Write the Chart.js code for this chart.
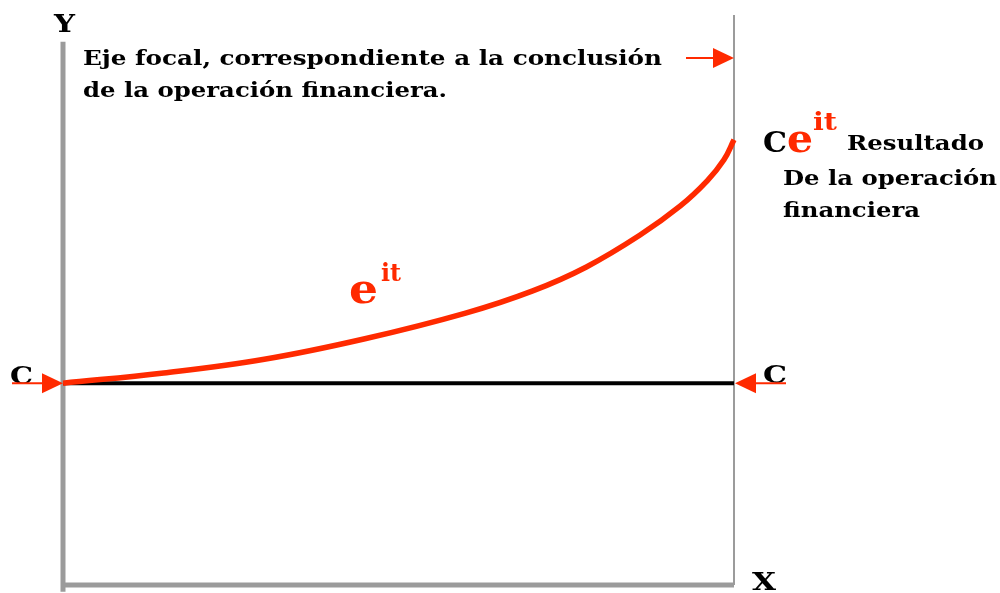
<!DOCTYPE html>
<html>
<head>
<meta charset="utf-8">
<script src="https://cdn.jsdelivr.net/npm/chart.js@4.4.0/dist/chart.umd.min.js"></script>
<style>
  html, body { margin: 0; padding: 0; background: #fff; }
  #wrap { width: 1000px; height: 593px; }
</style>
</head>
<body>
<div id="wrap"><canvas id="myChart" width="1000" height="593"></canvas></div>
<script>
// curve e^it
var curveX = [0, 1.5, 3, 4.5, 6, 7, 7.8, 8.6, 9.2, 9.6, 9.85, 10];
var curveY = [3.54, 3.72, 3.96, 4.32, 4.77, 5.16, 5.58, 6.14, 6.65, 7.09, 7.46, 7.81];

var cLevel = 3.54;     // capital C
var xStart = 0, xEnd = 10;
var yAxisFrom = -0.12, yAxisTo = 9.53;
var focalTop = 10;

var red = '#ff2a00';
var gray = '#9b9b9b';
var font = '"DejaVu Serif", serif';

function pts(xs, ys) {
  var out = [];
  for (var i = 0; i < xs.length; i++) out.push({x: xs[i], y: ys[i]});
  return out;
}

function arrow(ctx, x1, y, x2) {
  // shaft + triangular head pointing to x2
  var dir = x2 > x1 ? 1 : -1;
  ctx.save();
  ctx.strokeStyle = red;
  ctx.fillStyle = red;
  ctx.lineWidth = 2;
  ctx.beginPath();
  ctx.moveTo(x1, y);
  ctx.lineTo(x2 - dir * 18, y);
  ctx.stroke();
  ctx.beginPath();
  ctx.moveTo(x2, y);
  ctx.lineTo(x2 - dir * 21, y - 10);
  ctx.lineTo(x2 - dir * 21, y + 10);
  ctx.closePath();
  ctx.fill();
  ctx.restore();
}

// bold serif text, optionally stretched to a given width (Bookman-like look)
function txt(ctx, s, x, y, size, color, width) {
  ctx.font = 'bold ' + size + 'px ' + font;
  ctx.fillStyle = color || '#000';
  var w = ctx.measureText(s).width;
  if (width) {
    ctx.save();
    ctx.translate(x, y);
    ctx.scale(width / w, 1);
    ctx.fillText(s, 0, 0);
    ctx.restore();
    return width;
  }
  ctx.fillText(s, x, y);
  return w;
}

var labels = {
  id: 'labels',
  afterDatasetsDraw: function(chart) {
    var ctx = chart.ctx;
    var xs = chart.scales.x, ys = chart.scales.y;
    var left = xs.getPixelForValue(xStart), right = xs.getPixelForValue(xEnd);
    var cy = ys.getPixelForValue(cLevel);
    var topY = ys.getPixelForValue(curveY[curveY.length - 1]);
    ctx.save();
    ctx.textBaseline = 'alphabetic';

    txt(ctx, 'Y', 54, 32, 25, '#000', 21);
    txt(ctx, 'X', 752, 590, 25, '#000', 24);

    txt(ctx, 'Eje focal, correspondiente a la conclusión', 83, 65, 21, '#000', 579);
    txt(ctx, 'de la operación financiera.', 83, 97, 21, '#000', 364);
    arrow(ctx, 686, 58, right);

    // left C
    txt(ctx, 'C', 10, cy + 1, 25, '#000', 23);
    arrow(ctx, 12, cy, left);
    // right C
    txt(ctx, 'C', 763, cy, 25, '#000', 24);
    arrow(ctx, 786, cy, right + 1);

    // middle label e^it
    txt(ctx, 'e', 349, 303, 41, red, 29);
    txt(ctx, 'it', 381, 281, 24, red, 20);

    // result label
    var by = topY + 12;
    txt(ctx, 'C', 763, by, 28, '#000', 24);
    txt(ctx, 'e', 787, by, 40, red, 26);
    txt(ctx, 'it', 813, by - 22, 24, red, 24);
    txt(ctx, 'Resultado', 847, by - 2, 21, '#000', 137);
    txt(ctx, 'De la operación', 783, by + 33, 21, '#000', 214);
    txt(ctx, 'financiera', 783, by + 65, 21, '#000', 137);
    ctx.restore();
  }
};

var ctx = document.getElementById('myChart').getContext('2d');
var myChart = new Chart(ctx, {
  type: 'line',
  data: {
    datasets: [
      {
        label: 'eit',
        data: pts(curveX, curveY),
        borderColor: red,
        borderWidth: 5.5,
        pointRadius: 0,
        tension: 0.4,
        order: 0
      },
      {
        label: 'C',
        data: pts([xStart, xEnd], [cLevel, cLevel]),
        borderColor: '#000',
        borderWidth: 4,
        pointRadius: 0,
        order: 1
      },
      {
        label: 'eje focal',
        data: pts([xEnd, xEnd], [0, focalTop]),
        borderColor: gray,
        borderWidth: 2,
        pointRadius: 0,
        order: 2
      },
      {
        label: 'eje x',
        data: pts([xStart, xEnd], [0, 0]),
        borderColor: gray,
        borderWidth: 5,
        pointRadius: 0,
        order: 2
      },
      {
        label: 'eje y',
        data: pts([xStart, xStart], [yAxisFrom, yAxisTo]),
        borderColor: gray,
        borderWidth: 5,
        pointRadius: 0,
        order: 2
      }
    ]
  },
  options: {
    responsive: false,
    animation: false,
    clip: false,
    layout: { padding: { left: 63, right: 266, top: 15, bottom: 8 } },
    plugins: { legend: { display: false }, tooltip: { enabled: false } },
    scales: {
      x: { type: 'linear', min: 0, max: 10, display: false },
      y: { type: 'linear', min: 0, max: 10, display: false }
    }
  },
  plugins: [labels]
});
</script>
</body>
</html>
